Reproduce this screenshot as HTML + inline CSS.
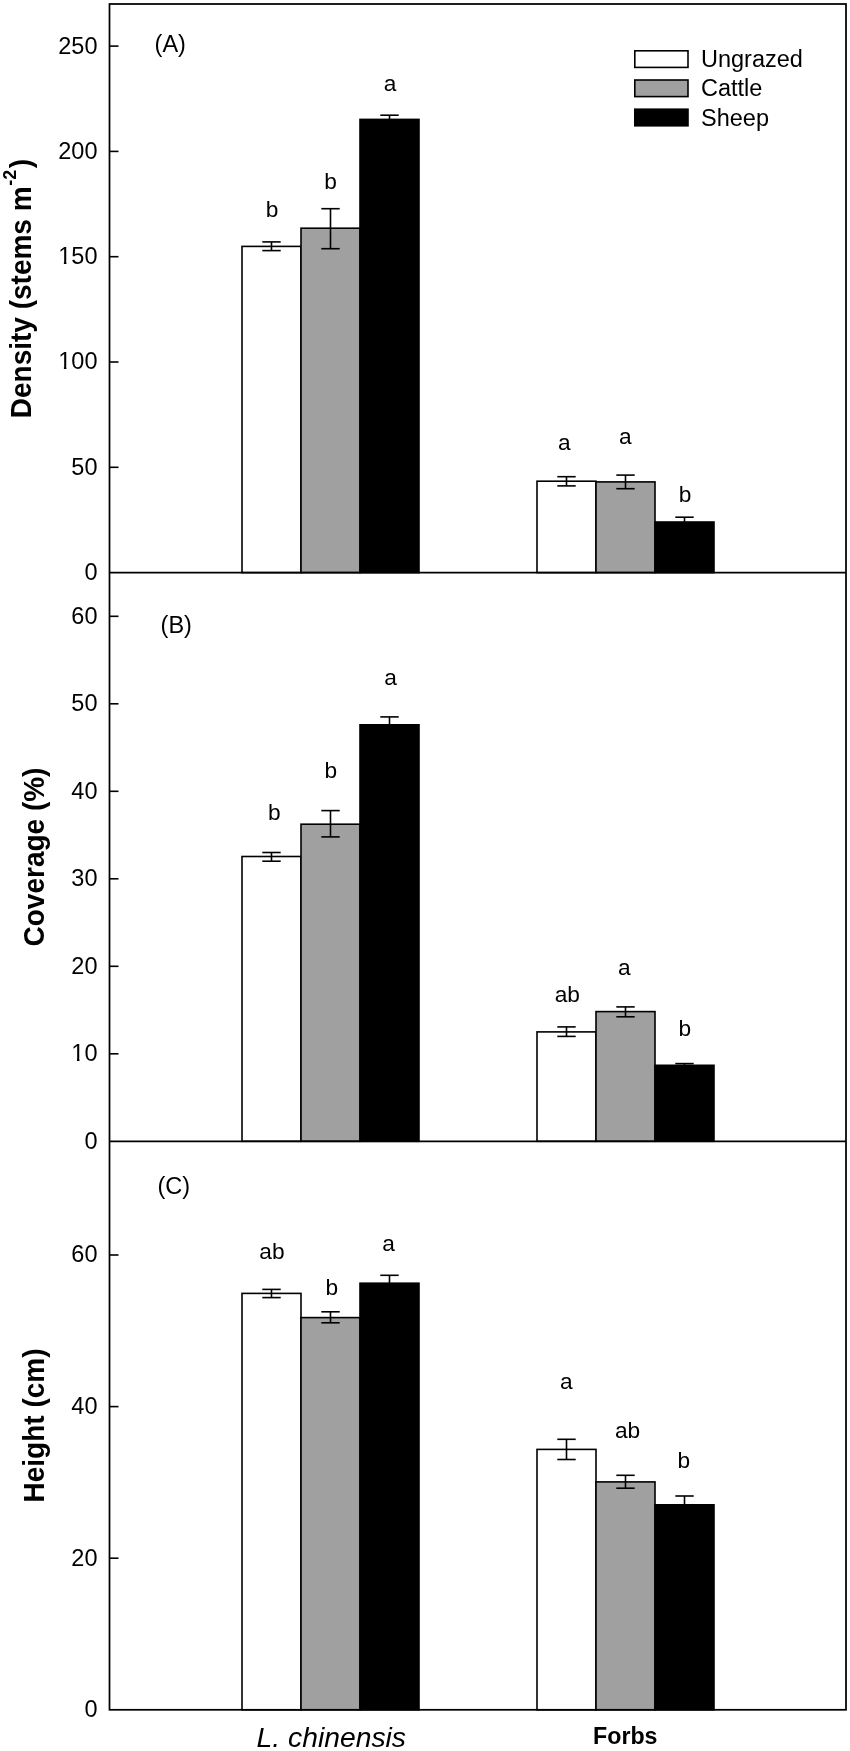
<!DOCTYPE html><html><head><meta charset="utf-8"><style>html,body{margin:0;padding:0;background:#fff;}svg{display:block;filter:grayscale(1);}text{font-family:"Liberation Sans",sans-serif;fill:#000;}</style></head><body>
<svg width="850" height="1751" viewBox="0 0 850 1751">
<rect x="0" y="0" width="850" height="1751" fill="#fff"/>
<rect x="242" y="246.4" width="59" height="326.2" fill="#fff" stroke="#000" stroke-width="1.6"/>
<rect x="301" y="228.2" width="59" height="344.4" fill="#a0a0a0" stroke="#000" stroke-width="1.6"/>
<rect x="360" y="119.4" width="59" height="453.2" fill="#000" stroke="#000" stroke-width="1.6"/>
<rect x="537" y="481.2" width="59" height="91.4" fill="#fff" stroke="#000" stroke-width="1.6"/>
<rect x="596" y="481.9" width="59" height="90.7" fill="#a0a0a0" stroke="#000" stroke-width="1.6"/>
<rect x="655" y="522.0" width="59" height="50.6" fill="#000" stroke="#000" stroke-width="1.6"/>
<line x1="271.5" y1="241.9" x2="271.5" y2="250.6" stroke="#000" stroke-width="1.6"/>
<line x1="262.3" y1="241.9" x2="280.7" y2="241.9" stroke="#000" stroke-width="1.6"/>
<line x1="262.3" y1="250.6" x2="280.7" y2="250.6" stroke="#000" stroke-width="1.6"/>
<line x1="330.5" y1="208.7" x2="330.5" y2="248.7" stroke="#000" stroke-width="1.6"/>
<line x1="321.3" y1="208.7" x2="339.7" y2="208.7" stroke="#000" stroke-width="1.6"/>
<line x1="321.3" y1="248.7" x2="339.7" y2="248.7" stroke="#000" stroke-width="1.6"/>
<line x1="389.5" y1="115.2" x2="389.5" y2="119.4" stroke="#000" stroke-width="1.6"/>
<line x1="380.3" y1="115.2" x2="398.7" y2="115.2" stroke="#000" stroke-width="1.6"/>
<line x1="566.5" y1="476.7" x2="566.5" y2="485.9" stroke="#000" stroke-width="1.6"/>
<line x1="557.3" y1="476.7" x2="575.7" y2="476.7" stroke="#000" stroke-width="1.6"/>
<line x1="557.3" y1="485.9" x2="575.7" y2="485.9" stroke="#000" stroke-width="1.6"/>
<line x1="625.5" y1="475.1" x2="625.5" y2="488.7" stroke="#000" stroke-width="1.6"/>
<line x1="616.3" y1="475.1" x2="634.7" y2="475.1" stroke="#000" stroke-width="1.6"/>
<line x1="616.3" y1="488.7" x2="634.7" y2="488.7" stroke="#000" stroke-width="1.6"/>
<line x1="684.5" y1="517.2" x2="684.5" y2="522.0" stroke="#000" stroke-width="1.6"/>
<line x1="675.3" y1="517.2" x2="693.7" y2="517.2" stroke="#000" stroke-width="1.6"/>
<text x="272.0" y="217.0" font-size="22.7" text-anchor="middle">b</text>
<text x="330.5" y="188.7" font-size="22.7" text-anchor="middle">b</text>
<text x="390.0" y="91.2" font-size="22.7" text-anchor="middle">a</text>
<text x="564.4" y="450.4" font-size="22.7" text-anchor="middle">a</text>
<text x="625.4" y="443.8" font-size="22.7" text-anchor="middle">a</text>
<text x="685.0" y="501.7" font-size="22.7" text-anchor="middle">b</text>
<text x="97.5" y="580.0" font-size="23.5" text-anchor="end">0</text>
<line x1="109.5" y1="467.3" x2="118.5" y2="467.3" stroke="#000" stroke-width="1.6"/>
<text x="97.5" y="474.7" font-size="23.5" text-anchor="end">50</text>
<line x1="109.5" y1="362.0" x2="118.5" y2="362.0" stroke="#000" stroke-width="1.6"/>
<text x="97.5" y="369.4" font-size="23.5" text-anchor="end">100</text>
<rect x="58.80" y="366.52" width="5.10" height="4.4" fill="#fff"/>
<rect x="66.40" y="366.52" width="4.6" height="4.4" fill="#fff"/>
<line x1="109.5" y1="256.7" x2="118.5" y2="256.7" stroke="#000" stroke-width="1.6"/>
<text x="97.5" y="264.1" font-size="23.5" text-anchor="end">150</text>
<rect x="58.80" y="261.22" width="5.10" height="4.4" fill="#fff"/>
<rect x="66.40" y="261.22" width="4.6" height="4.4" fill="#fff"/>
<line x1="109.5" y1="151.4" x2="118.5" y2="151.4" stroke="#000" stroke-width="1.6"/>
<text x="97.5" y="158.8" font-size="23.5" text-anchor="end">200</text>
<line x1="109.5" y1="46.1" x2="118.5" y2="46.1" stroke="#000" stroke-width="1.6"/>
<text x="97.5" y="53.5" font-size="23.5" text-anchor="end">250</text>
<text x="154.6" y="51.7" font-size="23.5">(A)</text>
<text transform="translate(30.6,288.6) rotate(-90) scale(1,1.045)" font-size="28" font-weight="bold" text-anchor="middle">Density (stems m<tspan dy="-14" dx="0.6" font-size="18">-2</tspan><tspan dy="14" dx="1.5">)</tspan></text>
<rect x="242" y="856.5" width="59" height="284.8" fill="#fff" stroke="#000" stroke-width="1.6"/>
<rect x="301" y="824.2" width="59" height="317.1" fill="#a0a0a0" stroke="#000" stroke-width="1.6"/>
<rect x="360" y="724.8" width="59" height="416.5" fill="#000" stroke="#000" stroke-width="1.6"/>
<rect x="537" y="1031.9" width="59" height="109.4" fill="#fff" stroke="#000" stroke-width="1.6"/>
<rect x="596" y="1011.6" width="59" height="129.7" fill="#a0a0a0" stroke="#000" stroke-width="1.6"/>
<rect x="655" y="1065.3" width="59" height="76.0" fill="#000" stroke="#000" stroke-width="1.6"/>
<line x1="271.5" y1="852.5" x2="271.5" y2="861.2" stroke="#000" stroke-width="1.6"/>
<line x1="262.3" y1="852.5" x2="280.7" y2="852.5" stroke="#000" stroke-width="1.6"/>
<line x1="262.3" y1="861.2" x2="280.7" y2="861.2" stroke="#000" stroke-width="1.6"/>
<line x1="330.5" y1="810.6" x2="330.5" y2="836.9" stroke="#000" stroke-width="1.6"/>
<line x1="321.3" y1="810.6" x2="339.7" y2="810.6" stroke="#000" stroke-width="1.6"/>
<line x1="321.3" y1="836.9" x2="339.7" y2="836.9" stroke="#000" stroke-width="1.6"/>
<line x1="389.5" y1="716.9" x2="389.5" y2="724.8" stroke="#000" stroke-width="1.6"/>
<line x1="380.3" y1="716.9" x2="398.7" y2="716.9" stroke="#000" stroke-width="1.6"/>
<line x1="566.5" y1="1026.9" x2="566.5" y2="1036.4" stroke="#000" stroke-width="1.6"/>
<line x1="557.3" y1="1026.9" x2="575.7" y2="1026.9" stroke="#000" stroke-width="1.6"/>
<line x1="557.3" y1="1036.4" x2="575.7" y2="1036.4" stroke="#000" stroke-width="1.6"/>
<line x1="625.5" y1="1006.9" x2="625.5" y2="1016.8" stroke="#000" stroke-width="1.6"/>
<line x1="616.3" y1="1006.9" x2="634.7" y2="1006.9" stroke="#000" stroke-width="1.6"/>
<line x1="616.3" y1="1016.8" x2="634.7" y2="1016.8" stroke="#000" stroke-width="1.6"/>
<line x1="684.5" y1="1063.6" x2="684.5" y2="1065.3" stroke="#000" stroke-width="1.6"/>
<line x1="675.3" y1="1063.6" x2="693.7" y2="1063.6" stroke="#000" stroke-width="1.6"/>
<text x="274.4" y="820.0" font-size="22.7" text-anchor="middle">b</text>
<text x="330.7" y="778.4" font-size="22.7" text-anchor="middle">b</text>
<text x="390.5" y="685.0" font-size="22.7" text-anchor="middle">a</text>
<text x="567.3" y="1002.0" font-size="22.7" text-anchor="middle">ab</text>
<text x="624.3" y="975.2" font-size="22.7" text-anchor="middle">a</text>
<text x="684.7" y="1036.4" font-size="22.7" text-anchor="middle">b</text>
<text x="97.5" y="1148.7" font-size="23.5" text-anchor="end">0</text>
<line x1="109.5" y1="1053.8" x2="118.5" y2="1053.8" stroke="#000" stroke-width="1.6"/>
<text x="97.5" y="1061.2" font-size="23.5" text-anchor="end">10</text>
<rect x="71.87" y="1058.32" width="5.10" height="4.4" fill="#fff"/>
<rect x="79.47" y="1058.32" width="4.6" height="4.4" fill="#fff"/>
<line x1="109.5" y1="966.3" x2="118.5" y2="966.3" stroke="#000" stroke-width="1.6"/>
<text x="97.5" y="973.7" font-size="23.5" text-anchor="end">20</text>
<line x1="109.5" y1="878.8" x2="118.5" y2="878.8" stroke="#000" stroke-width="1.6"/>
<text x="97.5" y="886.2" font-size="23.5" text-anchor="end">30</text>
<line x1="109.5" y1="791.3" x2="118.5" y2="791.3" stroke="#000" stroke-width="1.6"/>
<text x="97.5" y="798.7" font-size="23.5" text-anchor="end">40</text>
<line x1="109.5" y1="703.8" x2="118.5" y2="703.8" stroke="#000" stroke-width="1.6"/>
<text x="97.5" y="711.3" font-size="23.5" text-anchor="end">50</text>
<line x1="109.5" y1="616.3" x2="118.5" y2="616.3" stroke="#000" stroke-width="1.6"/>
<text x="97.5" y="623.8" font-size="23.5" text-anchor="end">60</text>
<text x="160.6" y="633.0" font-size="23.5">(B)</text>
<text transform="translate(43.9,857.0) rotate(-90) scale(1,1.045)" font-size="28" font-weight="bold" text-anchor="middle">Coverage (%)</text>
<rect x="242" y="1293.4" width="59" height="416.4" fill="#fff" stroke="#000" stroke-width="1.6"/>
<rect x="301" y="1317.6" width="59" height="392.2" fill="#a0a0a0" stroke="#000" stroke-width="1.6"/>
<rect x="360" y="1283.2" width="59" height="426.6" fill="#000" stroke="#000" stroke-width="1.6"/>
<rect x="537" y="1449.4" width="59" height="260.4" fill="#fff" stroke="#000" stroke-width="1.6"/>
<rect x="596" y="1481.9" width="59" height="227.9" fill="#a0a0a0" stroke="#000" stroke-width="1.6"/>
<rect x="655" y="1504.8" width="59" height="205.0" fill="#000" stroke="#000" stroke-width="1.6"/>
<line x1="271.5" y1="1289.4" x2="271.5" y2="1297.6" stroke="#000" stroke-width="1.6"/>
<line x1="262.3" y1="1289.4" x2="280.7" y2="1289.4" stroke="#000" stroke-width="1.6"/>
<line x1="262.3" y1="1297.6" x2="280.7" y2="1297.6" stroke="#000" stroke-width="1.6"/>
<line x1="330.5" y1="1311.8" x2="330.5" y2="1322.8" stroke="#000" stroke-width="1.6"/>
<line x1="321.3" y1="1311.8" x2="339.7" y2="1311.8" stroke="#000" stroke-width="1.6"/>
<line x1="321.3" y1="1322.8" x2="339.7" y2="1322.8" stroke="#000" stroke-width="1.6"/>
<line x1="389.5" y1="1275.3" x2="389.5" y2="1283.2" stroke="#000" stroke-width="1.6"/>
<line x1="380.3" y1="1275.3" x2="398.7" y2="1275.3" stroke="#000" stroke-width="1.6"/>
<line x1="566.5" y1="1439.3" x2="566.5" y2="1459.5" stroke="#000" stroke-width="1.6"/>
<line x1="557.3" y1="1439.3" x2="575.7" y2="1439.3" stroke="#000" stroke-width="1.6"/>
<line x1="557.3" y1="1459.5" x2="575.7" y2="1459.5" stroke="#000" stroke-width="1.6"/>
<line x1="625.5" y1="1475.3" x2="625.5" y2="1488.2" stroke="#000" stroke-width="1.6"/>
<line x1="616.3" y1="1475.3" x2="634.7" y2="1475.3" stroke="#000" stroke-width="1.6"/>
<line x1="616.3" y1="1488.2" x2="634.7" y2="1488.2" stroke="#000" stroke-width="1.6"/>
<line x1="684.5" y1="1496.0" x2="684.5" y2="1504.8" stroke="#000" stroke-width="1.6"/>
<line x1="675.3" y1="1496.0" x2="693.7" y2="1496.0" stroke="#000" stroke-width="1.6"/>
<text x="271.9" y="1259.3" font-size="22.7" text-anchor="middle">ab</text>
<text x="331.9" y="1295.0" font-size="22.7" text-anchor="middle">b</text>
<text x="388.6" y="1250.8" font-size="22.7" text-anchor="middle">a</text>
<text x="566.2" y="1388.9" font-size="22.7" text-anchor="middle">a</text>
<text x="627.6" y="1438.2" font-size="22.7" text-anchor="middle">ab</text>
<text x="683.9" y="1467.6" font-size="22.7" text-anchor="middle">b</text>
<text x="97.5" y="1717.2" font-size="23.5" text-anchor="end">0</text>
<line x1="109.5" y1="1558.2" x2="118.5" y2="1558.2" stroke="#000" stroke-width="1.6"/>
<text x="97.5" y="1565.6" font-size="23.5" text-anchor="end">20</text>
<line x1="109.5" y1="1406.6" x2="118.5" y2="1406.6" stroke="#000" stroke-width="1.6"/>
<text x="97.5" y="1414.0" font-size="23.5" text-anchor="end">40</text>
<line x1="109.5" y1="1255.0" x2="118.5" y2="1255.0" stroke="#000" stroke-width="1.6"/>
<text x="97.5" y="1262.4" font-size="23.5" text-anchor="end">60</text>
<text x="157.4" y="1194.2" font-size="23.5">(C)</text>
<text transform="translate(43.9,1425.5) rotate(-90) scale(1,1.045)" font-size="28" font-weight="bold" text-anchor="middle">Height (cm)</text>
<line x1="109.5" y1="572.6" x2="846.0" y2="572.6" stroke="#000" stroke-width="1.75"/>
<line x1="109.5" y1="1141.3" x2="846.0" y2="1141.3" stroke="#000" stroke-width="1.75"/>
<rect x="109.5" y="4.0" width="736.5" height="1705.8" fill="none" stroke="#000" stroke-width="1.75"/>
<rect x="634.8" y="50.8" width="53.2" height="16.6" fill="#fff" stroke="#000" stroke-width="1.6"/>
<text x="701" y="67.1" font-size="23.5">Ungrazed</text>
<rect x="634.8" y="80.0" width="53.2" height="16.6" fill="#a0a0a0" stroke="#000" stroke-width="1.6"/>
<text x="701" y="96.3" font-size="23.5">Cattle</text>
<rect x="634.8" y="109.2" width="53.2" height="16.6" fill="#000" stroke="#000" stroke-width="1.6"/>
<text x="701" y="125.5" font-size="23.5">Sheep</text>
<text x="331.3" y="1747" font-size="28.3" font-style="italic" text-anchor="middle">L. chinensis</text>
<text x="625.3" y="1744.4" font-size="23.2" font-weight="bold" text-anchor="middle">Forbs</text>
</svg></body></html>
